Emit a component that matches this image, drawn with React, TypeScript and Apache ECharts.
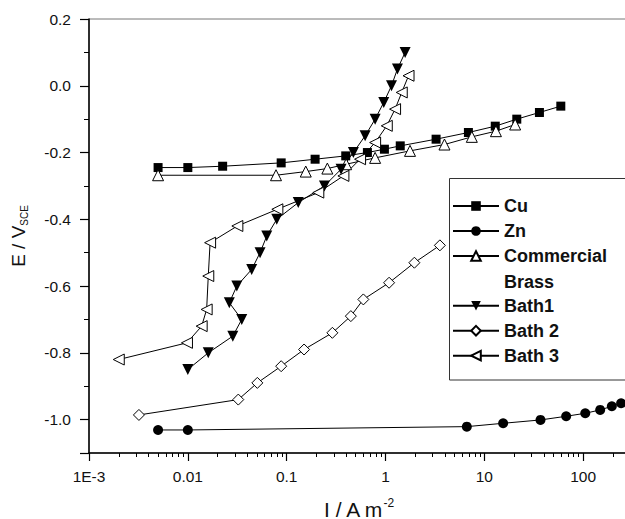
import React, { useEffect, useRef } from "react";
import * as echarts from "echarts";

// ---- data ----
const cuCurrent = [0.005, 0.01, 0.0225, 0.088, 0.194, 0.396, 0.656, 0.975, 1.41, 3.25, 6.9, 12.9, 21.3, 36.1, 59.4];
const cuPotential = [-0.245, -0.245, -0.241, -0.231, -0.22, -0.21, -0.2, -0.19, -0.18, -0.16, -0.14, -0.121, -0.1, -0.08, -0.061];

const znCurrent = [0.005, 0.01, 6.65, 15.5, 37, 67.3, 105, 148.6, 195, 242];
const znPotential = [-1.031, -1.031, -1.021, -1.011, -1.001, -0.99, -0.981, -0.971, -0.96, -0.951];

const brassCurrent = [0.005, 0.078, 0.156, 0.258, 0.4, 0.785, 1.77, 3.95, 7.47, 13.1, 20.5];
const brassPotential = [-0.268, -0.268, -0.257, -0.248, -0.235, -0.216, -0.195, -0.176, -0.153, -0.136, -0.116];

const bath1Current = [0.01, 0.0161, 0.0285, 0.0351, 0.0263, 0.0313, 0.0443, 0.0538, 0.0629, 0.0794, 0.131, 0.241, 0.355, 0.473, 0.622, 0.785, 0.96, 1.15, 1.32, 1.58];
const bath1Potential = [-0.85, -0.8, -0.75, -0.7, -0.65, -0.6, -0.55, -0.5, -0.45, -0.4, -0.35, -0.3, -0.25, -0.2, -0.15, -0.1, -0.05, 0.0, 0.05, 0.1];

const bath2Current = [0.0032, 0.0324, 0.0505, 0.088, 0.15, 0.29, 0.446, 0.597, 1.087, 1.96, 3.55];
const bath2Potential = [-0.986, -0.94, -0.89, -0.84, -0.79, -0.74, -0.69, -0.64, -0.59, -0.53, -0.478];

const bath3Current = [0.002, 0.0098, 0.0138, 0.0155, 0.0161, 0.0168, 0.0317, 0.0805, 0.209, 0.375, 0.553, 0.785, 1.03, 1.25, 1.46, 1.71];
const bath3Potential = [-0.82, -0.77, -0.72, -0.67, -0.57, -0.47, -0.42, -0.37, -0.32, -0.27, -0.22, -0.17, -0.12, -0.07, -0.02, 0.03];

const legendTop = ["Cu", "Zn", "Commercial Brass"];
const legendBottom = ["Bath1", "Bath 2", "Bath 3"];

const FONT = "'Liberation Sans', Arial, Helvetica, sans-serif";

function pairs(xs: number[], ys: number[]) {
  return xs.map((x, i) => [x, ys[i]]);
}

export default function App() {
  const ref = useRef<HTMLDivElement>(null);

  useEffect(() => {
    if (!ref.current) return;
    const chart = echarts.init(ref.current, null, { renderer: "svg" });

    const lineStyle = { color: "#000", width: 1 };
    const filled = { color: "#000" };
    const open = { color: "#fff", borderColor: "#000", borderWidth: 1 };

    const mkSeries = (name: string, xs: number[], ys: number[], symbol: string, size: number, itemStyle: any, rotate = 0) => ({
      name,
      type: "line",
      data: pairs(xs, ys),
      symbol,
      symbolSize: size,
      symbolRotate: rotate,
      showSymbol: true,
      itemStyle,
      lineStyle,
      emphasis: { disabled: true },
      z: 3,
    });

    const legendCommon = {
      orient: "vertical",
      left: 452,
      padding: 0,
      itemGap: 0,
      itemWidth: 46,
      itemHeight: 12,
      selectedMode: false,
      textStyle: { fontSize: 18, fontWeight: "bold", color: "#111", lineHeight: 25, fontFamily: FONT },
      z: 5,
    };

    const option: any = {
      animation: false,
      grid: {
        left: 89,
        top: 19,
        right: -57,
        bottom: 66,
        show: true,
        borderColor: "#777",
        borderWidth: 1,
        backgroundColor: "transparent",
        containLabel: false,
        outerBoundsMode: "none",
      },
      xAxis: {
        type: "log",
        logBase: 10,
        min: 0.001,
        max: 1000,
        axisLine: { show: true, onZero: false, lineStyle: { color: "#000", width: 1.5 } },
        axisTick: { show: true, inside: false, length: 8, lineStyle: { color: "#000", width: 1.2 } },
        minorTick: { show: true, splitNumber: 9, length: 4, lineStyle: { color: "#000", width: 1 } },
        splitLine: { show: false },
        minorSplitLine: { show: false },
        axisLabel: {
          margin: 15,
          fontSize: 15.5,
          color: "#111",
          fontFamily: FONT,
          formatter: (v: number) => {
            const n = Number(v.toPrecision(6));
            if (n >= 1000) return "";
            return n === 0.001 ? "1E-3" : String(n);
          },
        },
        name: "{a|I / A m}{b|-2}",
        nameLocation: "middle",
        nameGap: 44,
        nameTextStyle: {
          padding: [0, 54, 0, 0],
          rich: {
            a: { fontSize: 21, color: "#111", fontFamily: FONT, lineHeight: 24 },
            b: { fontSize: 12, color: "#111", fontFamily: FONT, verticalAlign: "top", lineHeight: 24 },
          },
        },
      },
      yAxis: [
        {
          type: "value",
          min: -1.1,
          max: 0.2,
          splitNumber: 6,
          minInterval: 0.2,
          maxInterval: 0.2,
          axisLine: { show: true, onZero: false, lineStyle: { color: "#000", width: 1.5 } },
          axisTick: { show: true, inside: false, length: 9, lineStyle: { color: "#000", width: 1.2 } },
          splitLine: { show: false },
          axisLabel: {
            margin: 18,
            fontSize: 15.5,
            color: "#111",
            fontFamily: FONT,
            formatter: (v: number) => (Math.abs(v + 1.1) < 1e-6 ? "" : v.toFixed(1)),
          },
          name: "{a|E / V}{b|SCE}",
          nameLocation: "middle",
          nameGap: 60,
          nameRotate: 90,
          nameTextStyle: {
            rich: {
              a: { fontSize: 19, color: "#111", fontFamily: FONT, lineHeight: 22 },
              b: { fontSize: 10, color: "#111", fontFamily: FONT, verticalAlign: "bottom", lineHeight: 22 },
            },
          },
        },
        {
          type: "value",
          min: -1.1,
          max: 0.2,
          interval: 0.1,
          position: "left",
          axisLine: { show: false, onZero: false },
          axisTick: { show: true, inside: false, length: 5, lineStyle: { color: "#000", width: 1 } },
          axisLabel: { show: false },
          splitLine: { show: false },
        },
      ],
      legend: [
        { ...legendCommon, data: legendTop, top: 193.5, formatter: (n: string) => (n === "Commercial Brass" ? "Commercial" : n) },
        { ...legendCommon, data: legendBottom, top: 293.2 },
      ],
      graphic: [
        {
          type: "rect",
          shape: { x: 449.5, y: 178.5, width: 200, height: 201.5 },
          style: { fill: "#fff", stroke: "#333", lineWidth: 1 },
          z: 4,
          silent: true,
        },
        {
          type: "text",
          x: 504,
          y: 281.7,
          z: 6,
          style: { text: "Brass", fontSize: 18, fontWeight: "bold", fontFamily: FONT, fill: "#111", verticalAlign: "middle" },
        },
      ],
      series: [
        mkSeries("Cu", cuCurrent, cuPotential, "rect", 9, filled),
        mkSeries("Zn", znCurrent, znPotential, "circle", 10, filled),
        mkSeries("Commercial Brass", brassCurrent, brassPotential, "triangle", 11, open),
        mkSeries("Bath1", bath1Current, bath1Potential, "triangle", 11, filled, 180),
        mkSeries("Bath 2", bath2Current, bath2Potential, "diamond", 11, open),
        mkSeries("Bath 3", bath3Current, bath3Potential, "triangle", 11, open, 90),
      ],
    };

    chart.setOption(option);
    return () => chart.dispose();
  }, []);

  return <div ref={ref} style={{ position: "absolute", left: 0, top: 0, width: 625, height: 519, background: "#fff" }} />;
}
